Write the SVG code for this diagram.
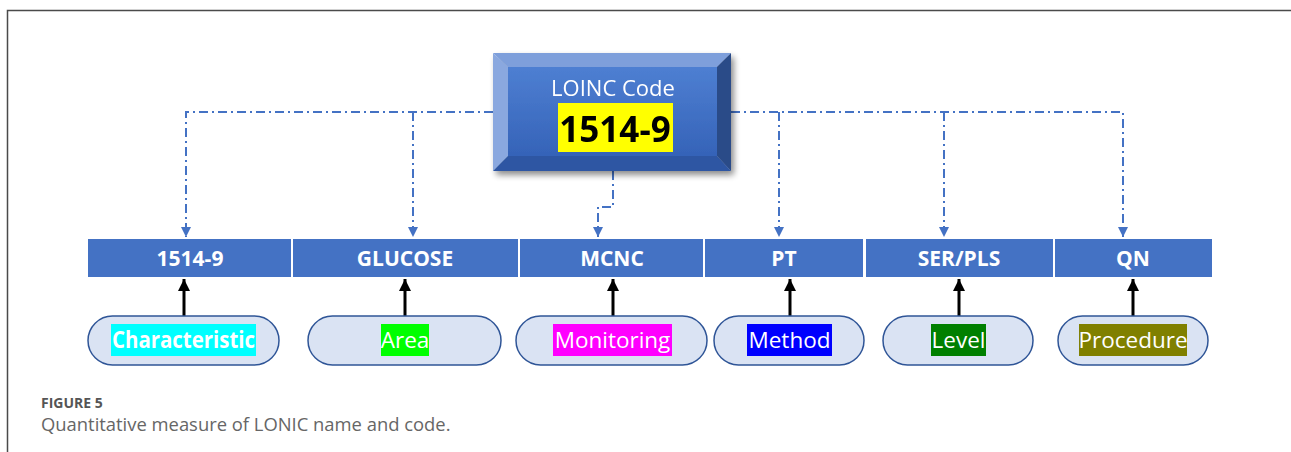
<svg xmlns="http://www.w3.org/2000/svg" width="1291" height="452" viewBox="0 0 1291 452">
  <style>
    .frame { fill: none; stroke: #4a4a4a; stroke-width: 1.5; }
    .bar { fill: #4472C4; }
    .barText { font-family: "Open Sans", "Liberation Sans", sans-serif; font-weight: bold; font-size: 21px; fill: #ffffff; text-anchor: middle; }
    .link { fill: none; stroke: #4472C4; stroke-width: 2; stroke-dasharray: 9 4 2 4; }
    .up { fill: none; stroke: #000000; stroke-width: 3; }
    .pill { fill: #DAE3F3; stroke: #2F5597; stroke-width: 1.5; }
    .pillText { font-family: "Open Sans", "Liberation Sans", sans-serif; font-size: 22.5px; fill: #ffffff; text-anchor: middle; }
    .capHead { font-family: "Open Sans", "Liberation Sans", sans-serif; font-weight: bold; font-size: 14px; fill: #555555; }
    .capText { font-family: "Open Sans", "Liberation Sans", sans-serif; font-size: 18.4px; fill: #666666; }
  </style>
  <defs>
    <marker id="blueHead" viewBox="0 0 10 10" refX="10" refY="5" markerWidth="10" markerHeight="10" markerUnits="userSpaceOnUse" orient="auto">
      <path d="M0,0 L10,5 L0,10 z" fill="#4472C4"/>
    </marker>
    <marker id="blackHead" viewBox="0 0 10 10" refX="10" refY="5" markerWidth="12" markerHeight="12" markerUnits="userSpaceOnUse" orient="auto">
      <path d="M0,0 L10,5 L0,10 z" fill="#000000"/>
    </marker>
    <linearGradient id="faceGrad" x1="0" y1="0" x2="0" y2="1">
      <stop offset="0" stop-color="#4E7FD2"/>
      <stop offset="1" stop-color="#3563B8"/>
    </linearGradient>
    <filter id="shadow" x="-10%" y="-10%" width="130%" height="140%">
      <feGaussianBlur in="SourceAlpha" stdDeviation="3"/>
      <feOffset dx="3" dy="4"/>
      <feComponentTransfer><feFuncA type="linear" slope="0.45"/></feComponentTransfer>
      <feMerge><feMergeNode/><feMergeNode in="SourceGraphic"/></feMerge>
    </filter>
  </defs>

  <rect width="1291" height="452" fill="#ffffff"/>
  <!-- figure frame -->
  <path class="frame" d="M7.5,452 V10.5 H1291"/>

  <!-- connectors -->
  <g id="connectors">
    <path class="link" d="M493,112 H186 V237" marker-end="url(#blueHead)"/>
    <path class="link" d="M413,112 V237" marker-end="url(#blueHead)"/>
    <path class="link" d="M613,171 V207 H598 V237" marker-end="url(#blueHead)"/>
    <path class="link" d="M731,112 H1123 V237" marker-end="url(#blueHead)"/>
    <path class="link" d="M779,112 V237" marker-end="url(#blueHead)"/>
    <path class="link" d="M944,112 V237" marker-end="url(#blueHead)"/>

    <path class="up" d="M184,316 V279" marker-end="url(#blackHead)"/>
    <path class="up" d="M405,316 V279" marker-end="url(#blackHead)"/>
    <path class="up" d="M613,316 V279" marker-end="url(#blackHead)"/>
    <path class="up" d="M790,316 V279" marker-end="url(#blackHead)"/>
    <path class="up" d="M959,316 V279" marker-end="url(#blackHead)"/>
    <path class="up" d="M1133,316 V279" marker-end="url(#blackHead)"/>
  </g>

  <!-- LOINC code block -->
  <g id="loinc-code" filter="url(#shadow)">
    <polygon points="493,53 731,53 717,67 508,67" fill="#7E9FDB"/>
    <polygon points="493,53 508,67 508,156 493,171" fill="#8AA8DF"/>
    <polygon points="731,53 731,171 717,156 717,67" fill="#2C4B88"/>
    <polygon points="493,171 731,171 717,156 508,156" fill="#2D56A3"/>
    <rect x="508" y="67" width="209" height="89" fill="url(#faceGrad)"/>
    <text x="613" y="96" font-family="'Open Sans', 'Liberation Sans', sans-serif" font-size="22" fill="#ffffff" text-anchor="middle">LOINC Code</text>
    <rect x="558" y="103" width="115" height="49" fill="#FFFF00"/>
    <text x="615" y="142" font-family="'Open Sans', 'Liberation Sans', sans-serif" font-weight="bold" font-size="35" fill="#000000" text-anchor="middle">1514-9</text>
  </g>

  <!-- name parts bar -->
  <g id="part-1514-9"><rect class="bar" x="88" y="239" width="203" height="38"/><text class="barText" x="190" y="266">1514-9</text></g>
  <g id="part-glucose"><rect class="bar" x="293" y="239" width="225" height="38"/><text class="barText" x="405" y="266">GLUCOSE</text></g>
  <g id="part-mcnc"><rect class="bar" x="520" y="239" width="183" height="38"/><text class="barText" x="612" y="266">MCNC</text></g>
  <g id="part-pt"><rect class="bar" x="705" y="239" width="158" height="38"/><text class="barText" x="784" y="266">PT</text></g>
  <g id="part-serpls"><rect class="bar" x="866" y="239" width="187" height="38"/><text class="barText" x="959" y="266">SER/PLS</text></g>
  <g id="part-qn"><rect class="bar" x="1055" y="239" width="157" height="38"/><text class="barText" x="1133" y="266">QN</text></g>

  <!-- axis labels -->
  <g id="axis-characteristic">
    <rect class="pill" x="88" y="316" width="191" height="49" rx="24.5"/>
    <rect x="111" y="324" width="145" height="32" fill="#00FFFF"/>
    <text class="pillText" x="183.5" y="348" font-weight="bold" font-size="20" textLength="143" lengthAdjust="spacingAndGlyphs">Characteristic</text>
  </g>
  <g id="axis-area">
    <rect class="pill" x="308" y="316" width="193" height="49" rx="24.5"/>
    <rect x="381" y="324" width="48" height="32" fill="#00FF00"/>
    <text class="pillText" x="405" y="348">Area</text>
  </g>
  <g id="axis-monitoring">
    <rect class="pill" x="516" y="316" width="191" height="49" rx="24.5"/>
    <rect x="553" y="324" width="119" height="32" fill="#FF00FF"/>
    <text class="pillText" x="612.5" y="348">Monitoring</text>
  </g>
  <g id="axis-method">
    <rect class="pill" x="714" y="316" width="150" height="49" rx="24.5"/>
    <rect x="747" y="324" width="85" height="32" fill="#0000FF"/>
    <text class="pillText" x="789.5" y="348">Method</text>
  </g>
  <g id="axis-level">
    <rect class="pill" x="883" y="316" width="150" height="49" rx="24.5"/>
    <rect x="931" y="324" width="55" height="32" fill="#008000"/>
    <text class="pillText" x="958.5" y="348">Level</text>
  </g>
  <g id="axis-procedure">
    <rect class="pill" x="1058" y="316" width="150" height="49" rx="24.5"/>
    <rect x="1079" y="324" width="108" height="32" fill="#808000"/>
    <text class="pillText" x="1133" y="348">Procedure</text>
  </g>

  <!-- caption -->
  <text class="capHead" x="41" y="408">FIGURE 5</text>
  <text class="capText" x="41" y="431">Quantitative measure of LONIC name and code.</text>
</svg>
